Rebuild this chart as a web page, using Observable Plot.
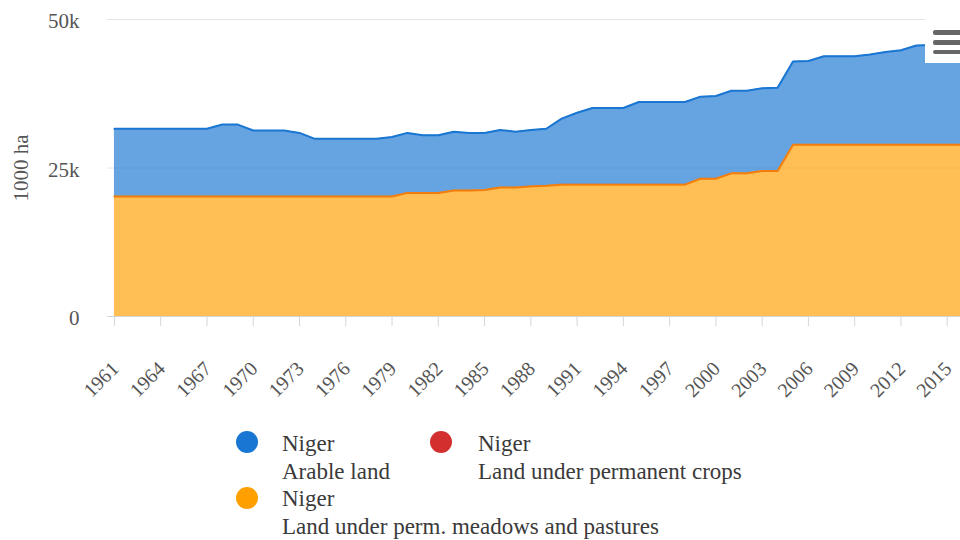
<!DOCTYPE html>
<html><head><meta charset="utf-8">
<script src="https://cdn.jsdelivr.net/npm/d3@7"></script>
<script src="https://cdn.jsdelivr.net/npm/@observablehq/plot@0.6"></script>
<style>
html,body{margin:0;padding:0;background:#fff;overflow:hidden;width:960px;height:540px}
#chart{position:absolute;left:0;top:0}
.leg{position:absolute;font-family:"Liberation Serif",serif;font-size:23px;line-height:28px;color:#3a3a3a;white-space:nowrap}
.dot{position:absolute;width:22px;height:22px;border-radius:50%}
#menu{position:absolute;left:925px;top:18px;width:40px;height:45px;background:#fff}
#menu span{position:absolute;left:8px;width:32px;height:4.5px;background:#666;border-radius:2px}
</style></head><body>
<div id="chart"></div>
<div id="menu"><span style="top:12px"></span><span style="top:22px"></span><span style="top:31.5px"></span></div>
<div class="dot" style="left:236px;top:431px;background:#1976d2"></div>
<div class="leg" style="left:282px;top:429.7px">Niger<br>Arable land</div>
<div class="dot" style="left:430px;top:431px;background:#d32f2f"></div>
<div class="leg" style="left:478px;top:429.7px">Niger<br>Land under permanent crops</div>
<div class="dot" style="left:236px;top:487px;background:#ffa000"></div>
<div class="leg" style="left:282px;top:484.7px">Niger<br>Land under perm. meadows and pastures</div>
<script>
const years = [1961,1962,1963,1964,1965,1966,1967,1968,1969,1970,1971,1972,1973,1974,1975,1976,1977,1978,1979,1980,
  1981,1982,1983,1984,1985,1986,1987,1988,1989,1990,1991,1992,1993,1994,1995,1996,1997,1998,1999,2000,
  2001,2002,2003,2004,2005,2006,2007,2008,2009,2010,2011,2012,2013,2014,2015,2016];
// 1000 ha
const arable = [11400,11400,11400,11400,11400,11400,11400,12100,12100,11100,11100,11100,10700,9700,9700,9700,9700,9700,10000,10100,
  9700,9700,9900,9700,9600,9700,9400,9500,9600,11100,12100,12900,12900,12900,13900,13900,13900,13900,13800,13900,
  13900,13900,13900,14000,14000,14100,14900,14900,14900,15200,15600,15900,16700,16800,16800,16800];
const crops = [10,10,10,10,10,10,10,10,10,10,10,10,10,10,10,10,10,10,10,10,
  10,10,10,10,10,10,10,10,10,10,10,10,10,10,10,10,10,10,10,10,
  10,10,10,10,10,10,10,10,10,10,10,10,10,10,10,10];
const pastures = [20200,20200,20200,20200,20200,20200,20200,20200,20200,20200,20200,20200,20200,20200,20200,20200,20200,20200,20200,20800,
  20800,20800,21200,21200,21300,21700,21700,21900,22000,22200,22200,22200,22200,22200,22200,22200,22200,22200,23200,23200,
  24100,24100,24500,24500,28900,28900,28900,28900,28900,28900,28900,28900,28900,28900,28900,28900];
const seriesNames = ["Land under perm. meadows and pastures","Land under permanent crops","Arable land"];
const seriesColors = ["#ffa000","#d32f2f","#1976d2"];
const xTicks = [1961,1964,1967,1970,1973,1976,1979,1982,1985,1988,1991,1994,1997,2000,2003,2006,2009,2012,2015];
const yTicks = [0,25000,50000];

const data = years.flatMap((year,i) => [
  {year, series: seriesNames[0], value: pastures[i]},
  {year, series: seriesNames[1], value: crops[i]},
  {year, series: seriesNames[2], value: arable[i]}
]);

const chart = Plot.plot({
  width: 960, height: 406,
  marginLeft: 107, marginRight: 0, marginTop: 19, marginBottom: 90,
  style: {fontFamily: "Liberation Serif, serif", background: "transparent"},
  x: {domain: [1960.55, 2015.86]},
  y: {domain: [0, 50000]},
  color: {domain: seriesNames, range: seriesColors},
  marks: [
    Plot.gridY([25000, 50000], {stroke: "#e6e6e6", strokeOpacity: 1}),
    Plot.areaY(data, {x: "year", y: "value", z: "series", fill: "series", fillOpacity: 0.67, order: seriesNames, clip: true}),
    Plot.lineY(data, Plot.stackY2({x: "year", y: "value", z: "series", stroke: "series", order: seriesNames, strokeWidth: 2, clip: true,
      strokeOpacity: d => d.series === seriesNames[1] ? 0.3 : 1})),
    Plot.ruleY([0], {stroke: "#d6d6d6"}),
    Plot.axisX(xTicks, {tickSize: 10, tickFormat: () => "", stroke: "#d6d6d6", label: null}),
    Plot.axisX(xTicks, {tickSize: 0, tickPadding: 49, dx: 1, tickRotate: -45, tickFormat: "d", fontSize: 20, fill: "#555", label: null}),
    Plot.axisY(yTicks, {tickSize: 0, tickPadding: 28, dy: 2, tickFormat: d => d === 0 ? "0" : (d/1000) + "k", fontSize: 21, fill: "#555",
      label: "1000 ha", labelAnchor: "center", labelOffset: 94, labelArrow: "none"})
  ]
});
document.getElementById("chart").appendChild(chart);
</script>
</body></html>
